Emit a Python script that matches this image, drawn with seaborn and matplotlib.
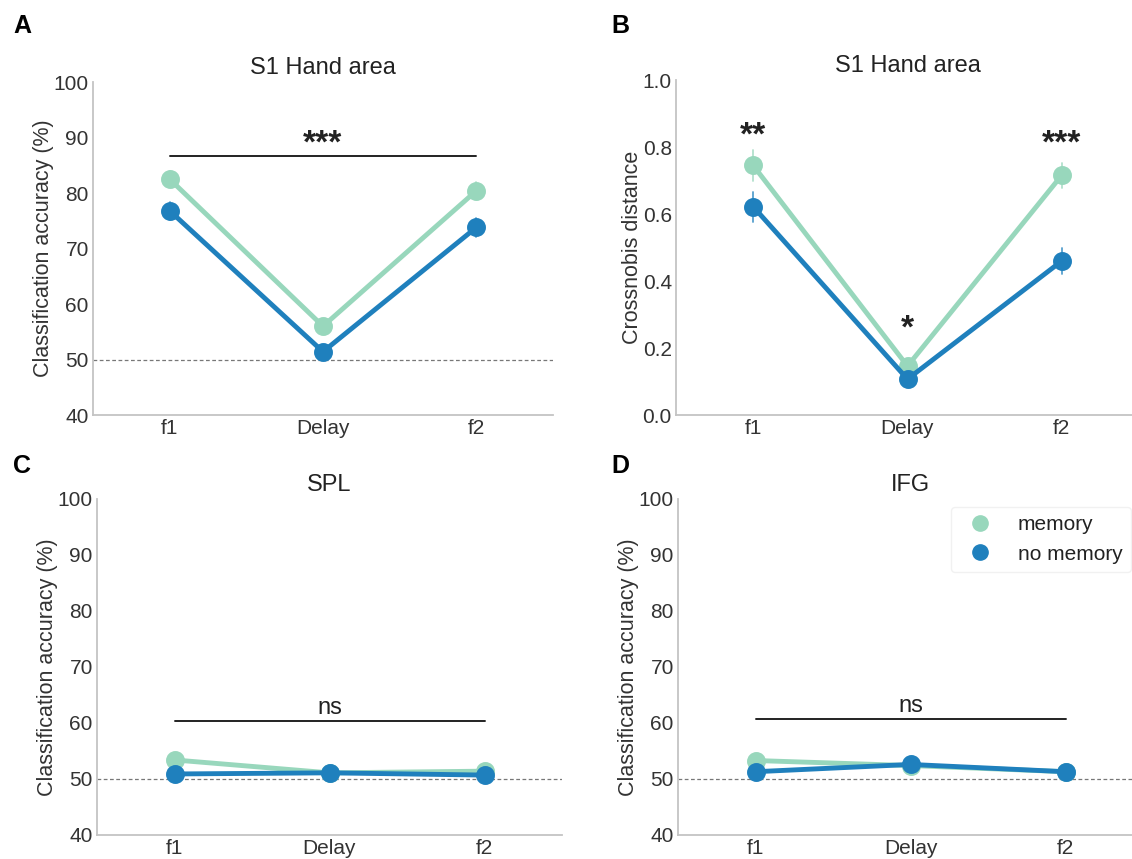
import numpy as np
import pandas as pd
import matplotlib
matplotlib.use("Agg")
import matplotlib.pyplot as plt
from matplotlib.lines import Line2D
import seaborn as sns

# ---- data ----
phases = ["f1", "Delay", "f2"]
conditions = ["memory", "no memory"]

s1_acc_memory = [82.5, 56.0, 80.4]
s1_acc_memory_err = [1.5, 0.8, 1.5]
s1_acc_nomem = [76.8, 51.4, 73.8]
s1_acc_nomem_err = [1.6, 0.8, 1.7]

s1_dist_memory = [0.745, 0.146, 0.716]
s1_dist_memory_err = [0.045, 0.02, 0.037]
s1_dist_nomem = [0.622, 0.107, 0.460]
s1_dist_nomem_err = [0.045, 0.015, 0.04]

spl_memory = [53.4, 51.1, 51.4]
spl_memory_err = [0.5, 0.5, 0.5]
spl_nomem = [50.9, 51.1, 50.7]
spl_nomem_err = [0.5, 0.5, 0.5]

ifg_memory = [53.3, 52.4, 51.3]
ifg_memory_err = [0.5, 0.5, 0.5]
ifg_nomem = [51.3, 52.6, 51.3]
ifg_nomem_err = [0.5, 0.5, 0.5]

colors = {"memory": "#98d7bc", "no memory": "#1f80bd"}

sns.set_theme(style="white")
plt.rcParams["font.family"] = ["Liberation Sans", "DejaVu Sans"]


def long_table(mem, mem_err, nom, nom_err):
    rows = []
    for cond, m, e in (("memory", mem, mem_err), ("no memory", nom, nom_err)):
        for p, mv, ev in zip(phases, m, e):
            rows.append({"phase": p, "cond": cond, "val": mv - ev})
            rows.append({"phase": p, "cond": cond, "val": mv + ev})
    return pd.DataFrame(rows)


fig = plt.figure(figsize=(11.32, 8.59), dpi=100)
W, H = 1132, 859


def make_ax(left, top, width, bottom):
    return fig.add_axes([left / W, 1 - bottom / H, width / W, (bottom - top) / H])


axA = make_ax(93, 82, 460, 415)
axB = make_ax(676, 80, 463, 415)
axC = make_ax(97, 499, 465, 835)
axD = make_ax(678, 499, 465, 835)

panels = [
    (axA, long_table(s1_acc_memory, s1_acc_memory_err, s1_acc_nomem, s1_acc_nomem_err), "S1 Hand area", "Classification accuracy (%)", (40, 100), [40, 50, 60, 70, 80, 90, 100], True),
    (axB, long_table(s1_dist_memory, s1_dist_memory_err, s1_dist_nomem, s1_dist_nomem_err), "S1 Hand area", "Crossnobis distance", (0, 1.0), [0.0, 0.2, 0.4, 0.6, 0.8, 1.0], False),
    (axC, long_table(spl_memory, spl_memory_err, spl_nomem, spl_nomem_err), "SPL", "Classification accuracy (%)", (40, 100), [40, 50, 60, 70, 80, 90, 100], True),
    (axD, long_table(ifg_memory, ifg_memory_err, ifg_nomem, ifg_nomem_err), "IFG", "Classification accuracy (%)", (40, 100), [40, 50, 60, 70, 80, 90, 100], True),
]

for ax, df, title, ylabel, ylim, yticks, chance in panels:
    sns.pointplot(data=df, x="phase", y="val", hue="cond", order=phases,
                  hue_order=conditions, palette=colors, estimator="mean",
                  errorbar=("pi", 100), markers="o", markersize=11,
                  linewidth=3.5, err_kws={"linewidth": 1.3, "alpha": 0.75},
                  legend=False, ax=ax)
    ax.set_xlim(-0.5, 2.5)
    ax.set_ylim(*ylim)
    ax.set_yticks(yticks)
    if ylim[1] == 1.0:
        ax.set_yticklabels([f"{t:.1f}" for t in yticks])
    ax.set_xlabel("")
    ax.set_ylabel(ylabel, fontsize=15.5, color="#333333", labelpad=0)
    ax.set_title(title, fontsize=17, color="#222222", pad=6)
    ax.tick_params(axis="both", labelsize=15, colors="#333333", length=0, pad=3)
    sns.despine(ax=ax)
    for s in ("left", "bottom"):
        ax.spines[s].set_color("#c4c4c4")
        ax.spines[s].set_linewidth(1.3)
    if chance:
        ax.axhline(50, color="#777777", linestyle=(0, (3, 2)), linewidth=0.9, zorder=0)

# significance annotations
star_kw = dict(ha="center", va="center", fontsize=24, fontweight="bold", color="#222222")
axA.plot([0, 2], [86.7, 86.7], color="#222222", linewidth=1.4)
axA.text(1, 88.8, "***", **star_kw)

axB.text(0, 0.833, "**", **star_kw)
axB.text(2, 0.808, "***", **star_kw)
axB.text(1, 0.258, "*", **star_kw)

ns_kw = dict(ha="center", va="center", fontsize=17, color="#222222")
axC.plot([0, 2], [60.3, 60.3], color="#222222", linewidth=1.4)
axC.text(1, 62.7, "ns", **ns_kw)
axD.plot([0, 2], [60.7, 60.7], color="#222222", linewidth=1.4)
axD.text(1, 63.0, "ns", **ns_kw)

# legend
handles = [Line2D([], [], marker="o", linestyle="", markersize=11, color=colors[c]) for c in conditions]
leg = axD.legend(handles, conditions, loc="upper right",
                 bbox_to_anchor=(1131 / W, 1 - 507 / H), bbox_transform=fig.transFigure,
                 borderaxespad=0.0, fontsize=15, frameon=True, handletextpad=0.8,
                 borderpad=0.4, labelspacing=0.5)
leg.get_frame().set_edgecolor("#eeeeee")
for t in leg.get_texts():
    t.set_color("#222222")

# panel letters
for letter, (x, y) in zip("ABCD", [(13, 26), (611, 26), (13, 466), (611, 466)]):
    fig.text(x / W, 1 - y / H, letter, fontsize=18, fontweight="bold", color="black", va="center", ha="left")

fig.savefig("out.png", dpi=100, facecolor="white")
